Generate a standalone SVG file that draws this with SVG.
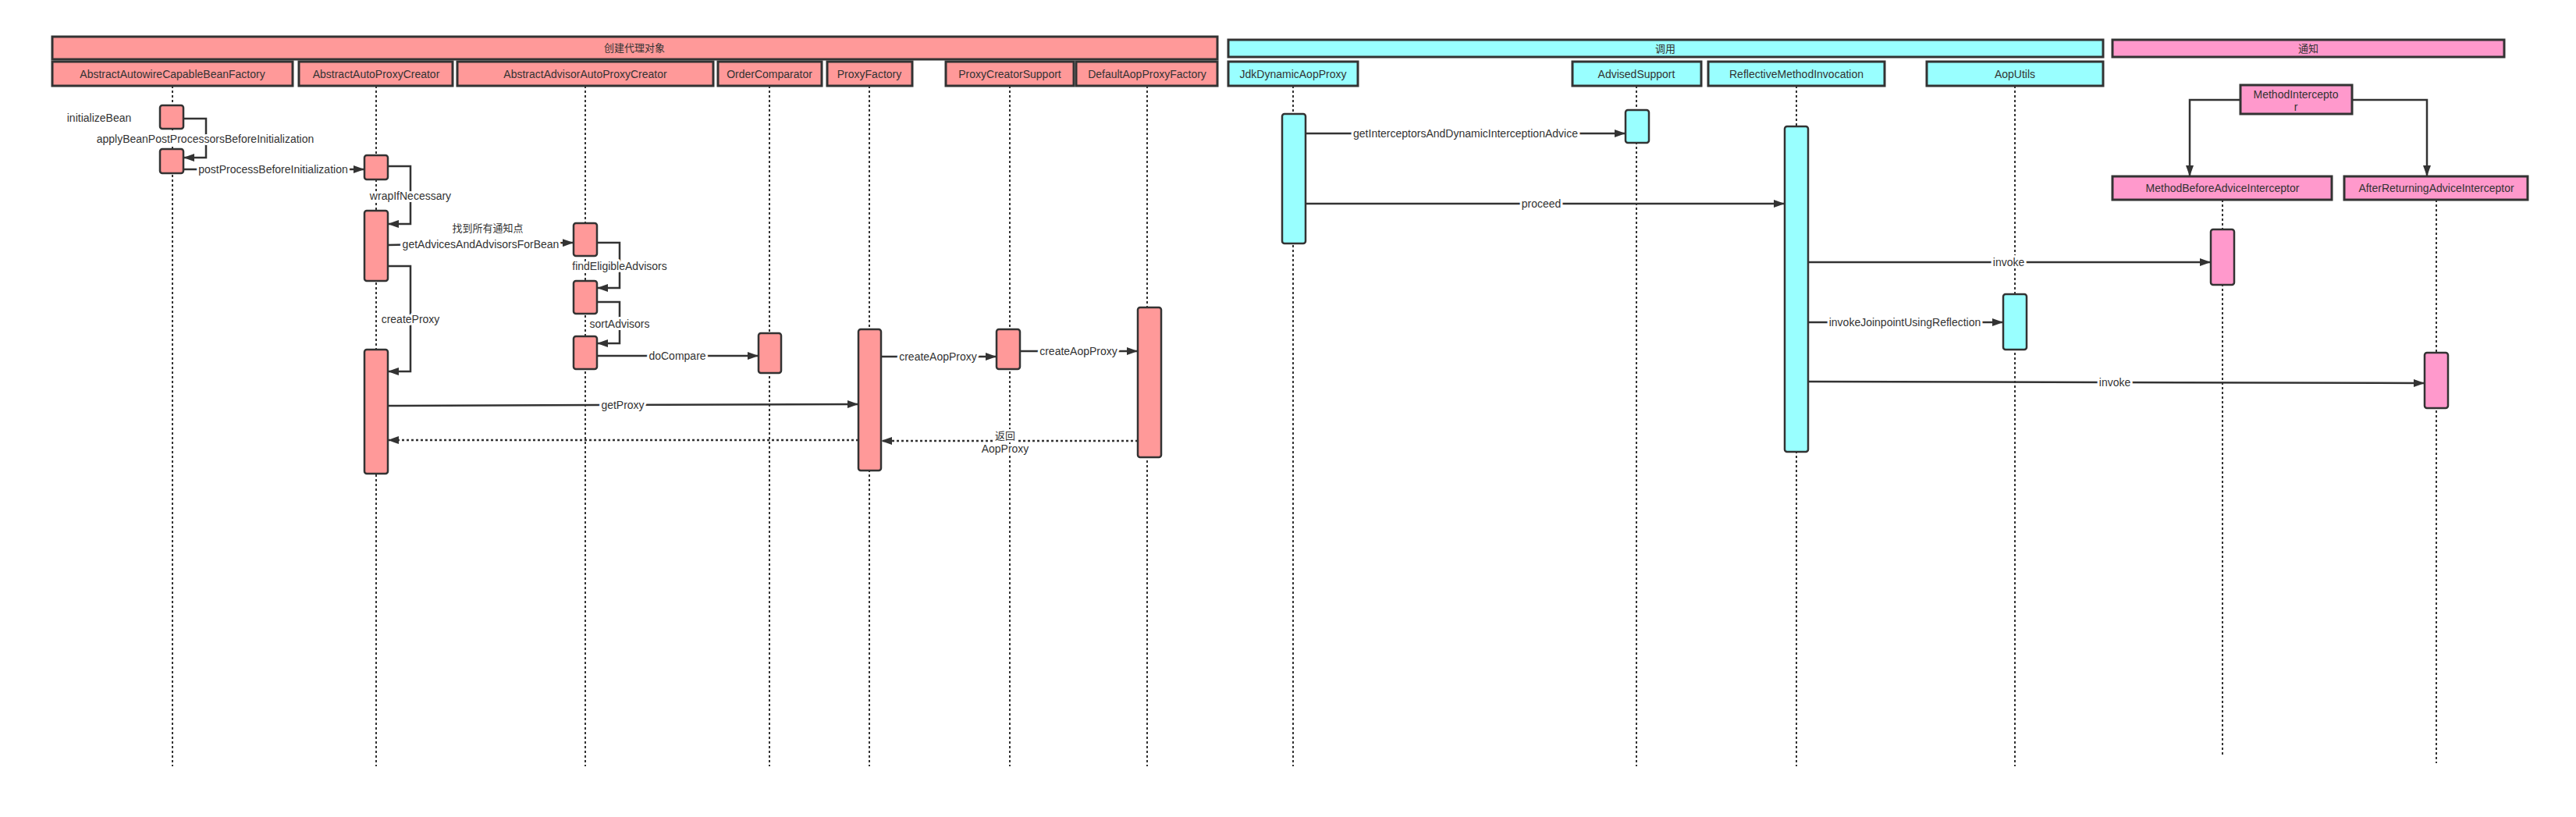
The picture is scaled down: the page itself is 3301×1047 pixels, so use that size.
<svg xmlns="http://www.w3.org/2000/svg" width="3301" height="1047" viewBox="0 0 3301 1047">
<style>
text{font-family:"Liberation Sans","Noto Sans CJK SC",sans-serif;fill:#333;text-anchor:middle}
.hdr{stroke:#333;stroke-width:3}
.p{stroke:#333;stroke-width:3}
.red{fill:#FF9999}
.cyan{fill:#99FFFF}
.pink{fill:#FF99CC}
.act{stroke:#333;stroke-width:2.5}
.life{stroke:#333;stroke-width:2;stroke-dasharray:3 3;fill:none}
.pt{font-size:14px}
.ht{font-size:13px}
.msg{stroke:#333;stroke-width:2.5;fill:none}
.ret{stroke:#333;stroke-width:2.5;fill:none;stroke-dasharray:3 3}
.lbl{font-size:14px;stroke:#fff;stroke-width:6;stroke-linejoin:round;paint-order:stroke}
.cn{font-size:13px}
</style>
<defs>
<marker id="arr" viewBox="0 0 14 10" refX="14" refY="5" markerWidth="14" markerHeight="10" markerUnits="userSpaceOnUse" orient="auto">
<path d="M0,0 L14,5 L0,10 z" fill="#333" stroke="none"/>
</marker>
</defs>
<rect width="3301" height="1047" fill="#fff"/>

<g id="headers">
<g id="h-create"><rect class="hdr red" x="67" y="47" width="1493" height="29"/><text class="ht" x="813" y="66">创建代理对象</text></g>
<g id="h-invoke"><rect class="hdr cyan" x="1574" y="51" width="1121" height="22"/><text class="ht" x="2134" y="67">调用</text></g>
<g id="h-advice"><rect class="hdr pink" x="2707" y="51" width="502" height="22"/><text class="ht" x="2958" y="67">通知</text></g>
</g>

<g id="lifelines">
<line class="life" x1="221" y1="110" x2="221" y2="982"/>
<line class="life" x1="482" y1="110" x2="482" y2="982"/>
<line class="life" x1="750" y1="110" x2="750" y2="982"/>
<line class="life" x1="986" y1="110" x2="986" y2="982"/>
<line class="life" x1="1114" y1="110" x2="1114" y2="982"/>
<line class="life" x1="1294" y1="110" x2="1294" y2="982"/>
<line class="life" x1="1470" y1="110" x2="1470" y2="982"/>
<line class="life" x1="1657" y1="110" x2="1657" y2="982"/>
<line class="life" x1="2097" y1="110" x2="2097" y2="982"/>
<line class="life" x1="2302" y1="110" x2="2302" y2="982"/>
<line class="life" x1="2582" y1="110" x2="2582" y2="982"/>
<line class="life" x1="2848" y1="256" x2="2848" y2="968"/>
<line class="life" x1="3122" y1="256" x2="3122" y2="978"/>
</g>

<g id="n-AbstractAutowireCapableBeanFactory"><rect class="p red" x="67" y="79" width="308" height="31"/><text class="pt" x="221" y="100">AbstractAutowireCapableBeanFactory</text></g>
<g id="n-AbstractAutoProxyCreator"><rect class="p red" x="383" y="79" width="197" height="31"/><text class="pt" x="482" y="100">AbstractAutoProxyCreator</text></g>
<g id="n-AbstractAdvisorAutoProxyCreator"><rect class="p red" x="586" y="79" width="328" height="31"/><text class="pt" x="750" y="100">AbstractAdvisorAutoProxyCreator</text></g>
<g id="n-OrderComparator"><rect class="p red" x="920" y="79" width="133" height="31"/><text class="pt" x="986" y="100">OrderComparator</text></g>
<g id="n-ProxyFactory"><rect class="p red" x="1060" y="79" width="109" height="31"/><text class="pt" x="1114" y="100">ProxyFactory</text></g>
<g id="n-ProxyCreatorSupport"><rect class="p red" x="1212" y="79" width="164" height="31"/><text class="pt" x="1294" y="100">ProxyCreatorSupport</text></g>
<g id="n-DefaultAopProxyFactory"><rect class="p red" x="1379" y="79" width="181" height="31"/><text class="pt" x="1470" y="100">DefaultAopProxyFactory</text></g>
<g id="n-JdkDynamicAopProxy"><rect class="p cyan" x="1574" y="79" width="166" height="31"/><text class="pt" x="1657" y="100">JdkDynamicAopProxy</text></g>
<g id="n-AdvisedSupport"><rect class="p cyan" x="2015" y="79" width="165" height="31"/><text class="pt" x="2097" y="100">AdvisedSupport</text></g>
<g id="n-ReflectiveMethodInvocation"><rect class="p cyan" x="2189" y="79" width="226" height="31"/><text class="pt" x="2302" y="100">ReflectiveMethodInvocation</text></g>
<g id="n-AopUtils"><rect class="p cyan" x="2469" y="79" width="226" height="31"/><text class="pt" x="2582" y="100">AopUtils</text></g>
<g id="n-MethodInterceptor"><rect class="p pink" x="2871" y="109" width="143" height="37"/><text class="pt" x="2942" y="126">MethodIntercepto</text><text class="pt" x="2942" y="142">r</text></g>
<g id="n-MethodBeforeAdviceInterceptor"><rect class="p pink" x="2707" y="226" width="281" height="30"/><text class="pt" x="2848" y="246">MethodBeforeAdviceInterceptor</text></g>
<g id="n-AfterReturningAdviceInterceptor"><rect class="p pink" x="3004" y="226" width="235" height="30"/><text class="pt" x="3122" y="246">AfterReturningAdviceInterceptor</text></g>

<g id="activations">
<rect class="act red" x="205" y="135" width="30" height="30" rx="3"/>
<rect class="act red" x="205" y="191" width="30" height="31" rx="3"/>
<rect class="act red" x="467" y="199" width="30" height="31" rx="3"/>
<rect class="act red" x="467" y="270" width="30" height="90" rx="3"/>
<rect class="act red" x="467" y="448" width="30" height="159" rx="3"/>
<rect class="act red" x="735" y="286" width="30" height="42" rx="3"/>
<rect class="act red" x="735" y="360" width="30" height="42" rx="3"/>
<rect class="act red" x="735" y="431" width="30" height="42" rx="3"/>
<rect class="act red" x="972" y="427" width="29" height="51" rx="3"/>
<rect class="act red" x="1100" y="422" width="29" height="181" rx="3"/>
<rect class="act red" x="1277" y="422" width="30" height="51" rx="3"/>
<rect class="act red" x="1458" y="394" width="30" height="192" rx="3"/>
<rect class="act cyan" x="1643" y="146" width="30" height="166" rx="3"/>
<rect class="act cyan" x="2083" y="141" width="30" height="42" rx="3"/>
<rect class="act cyan" x="2287" y="162" width="30" height="417" rx="3"/>
<rect class="act cyan" x="2567" y="377" width="30" height="71" rx="3"/>
<rect class="act pink" x="2833" y="294" width="30" height="71" rx="3"/>
<rect class="act pink" x="3107" y="452" width="30" height="71" rx="3"/>
</g>

<text class="pt" x="127" y="156">initializeBean</text>

<g id="connectors">
<polyline class="msg" points="235,152 264,152 264,202 235,202" marker-end="url(#arr)"/>
<text class="lbl" x="263" y="183">applyBeanPostProcessorsBeforeInitialization</text>
<line class="msg" x1="235" y1="217" x2="467" y2="217" marker-end="url(#arr)"/>
<text class="lbl" x="350" y="222">postProcessBeforeInitialization</text>
<polyline class="msg" points="497,213 526,213 526,287 497,287" marker-end="url(#arr)"/>
<text class="lbl" x="526" y="256">wrapIfNecessary</text>
<line class="msg" x1="497" y1="314" x2="735" y2="311" marker-end="url(#arr)"/>
<text class="lbl" x="616" y="318">getAdvicesAndAdvisorsForBean</text>
<text class="cn" x="625" y="297">找到所有通知点</text>
<polyline class="msg" points="765,311 794,311 794,369 765,369" marker-end="url(#arr)"/>
<text class="lbl" x="794" y="346">findEligibleAdvisors</text>
<polyline class="msg" points="765,387 794,387 794,440 765,440" marker-end="url(#arr)"/>
<text class="lbl" x="794" y="420">sortAdvisors</text>
<line class="msg" x1="765" y1="456" x2="972" y2="456" marker-end="url(#arr)"/>
<text class="lbl" x="868" y="461">doCompare</text>
<polyline class="msg" points="497,341 526,341 526,476 497,476" marker-end="url(#arr)"/>
<text class="lbl" x="526" y="414">createProxy</text>
<line class="msg" x1="497" y1="520" x2="1100" y2="518" marker-end="url(#arr)"/>
<text class="lbl" x="798" y="524">getProxy</text>
<line class="ret" x1="1100" y1="564" x2="497" y2="564" marker-end="url(#arr)"/>
<line class="msg" x1="1129" y1="457" x2="1277" y2="457" marker-end="url(#arr)"/>
<text class="lbl" x="1202" y="462">createAopProxy</text>
<line class="msg" x1="1307" y1="450" x2="1458" y2="450" marker-end="url(#arr)"/>
<text class="lbl" x="1382" y="455">createAopProxy</text>
<line class="ret" x1="1458" y1="565" x2="1129" y2="565" marker-end="url(#arr)"/>
<text class="lbl cn" x="1288" y="563" style="font-size:13px">返回</text>
<text class="lbl" x="1288" y="580">AopProxy</text>
<line class="msg" x1="1673" y1="171" x2="2083" y2="171" marker-end="url(#arr)"/>
<text class="lbl" x="1878" y="176">getInterceptorsAndDynamicInterceptionAdvice</text>
<line class="msg" x1="1673" y1="261" x2="2287" y2="261" marker-end="url(#arr)"/>
<text class="lbl" x="1975" y="266">proceed</text>
<line class="msg" x1="2317" y1="336" x2="2833" y2="336" marker-end="url(#arr)"/>
<text class="lbl" x="2574" y="341">invoke</text>
<line class="msg" x1="2317" y1="413" x2="2567" y2="413" marker-end="url(#arr)"/>
<text class="lbl" x="2441" y="418">invokeJoinpointUsingReflection</text>
<line class="msg" x1="2317" y1="489" x2="3107" y2="491" marker-end="url(#arr)"/>
<text class="lbl" x="2710" y="495">invoke</text>
<polyline class="msg" points="2871,128 2806,128 2806,226" marker-end="url(#arr)"/>
<polyline class="msg" points="3014,128 3110,128 3110,226" marker-end="url(#arr)"/>
</g>
</svg>
